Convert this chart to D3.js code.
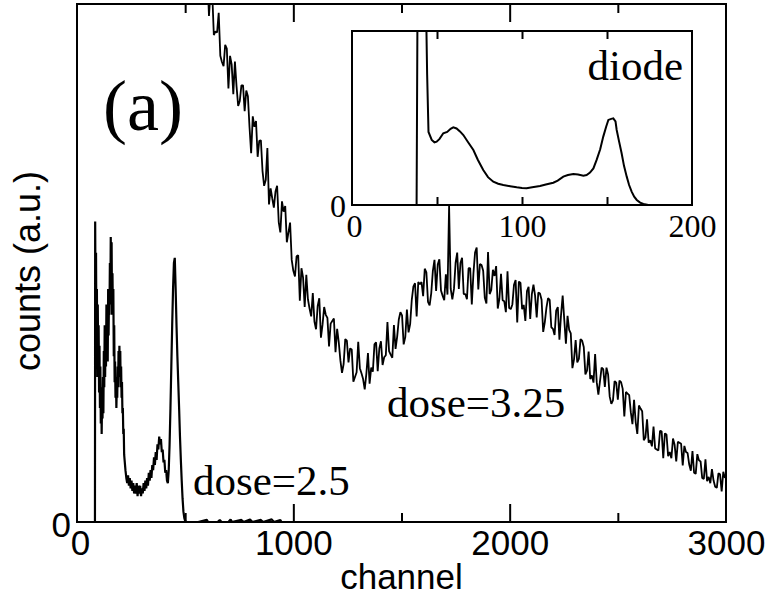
<!DOCTYPE html>
<html><head><meta charset="utf-8">
<script src="https://cdn.jsdelivr.net/npm/d3@7"></script>
<style>body{margin:0;background:#fff}</style>
</head><body><svg id="c" width="769" height="600"></svg>
<script>
// ---- data ----
const mainMajorTicks = [0, 1000, 2000, 3000];
const mainMinorTicks = [500, 1500, 2500];
const insetMajorTicks = [0, 100, 200];
const insetInnerTicks = [50, 100, 150];

// dose = 3.25, read on two interleaved channel grids (565..2995 and 572.5..2987.5, step 15)
const channel325a = d3.range(565, 3000, 15);
const counts325a = [
111,103.7,105.2,97.7,102.2,94.7,98.3,88.8,92.1,83.7,88.3,88.9,80.3,84.3,79.3,82.2,71.2,76.3,70.5,73.7,
64.9,72.2,64.4,60.7,64.9,55.9,59.9,54,57.8,48.5,51.3,42.7,47.2,47.7,41.2,44.2,37.2,43.2,38.1,40,
33.9,38.8,32.8,34.7,28.8,35.3,30.8,33.3,28,34.8,28.7,25.6,32.6,29.8,34.3,29.1,34.9,31.8,38.6,32.3,
38,35.8,40.5,34.3,41,38.2,45.5,39.7,45.9,43.6,48.2,41.8,48.5,44.6,50.7,43.7,47.8,61,43,50,
45,51,44,49,42,52,44.9,49.6,43.3,52.1,44.8,47.5,41.2,47.9,42.6,48.4,41.1,45.8,38.5,46.2,
41.9,44.6,39.2,45.8,39.5,44.1,36.7,41.4,42.9,37.3,40.8,35.2,43.7,34.4,37.1,29.7,35.1,31.5,35,28.5,
32.9,28.3,32.4,24.6,29.8,26.1,28.5,22.8,27.2,23.6,27,20.4,24.8,21.2,23.6,17,21.9,15.8,19.8,15.8,
18.4,14,17.6,12.3,16.9,13.5,16.1,11.7,15.3,10.9,13.5,11.1,13.7,9.3,11.9,8.5,12.1,8.7,10.2,6.8,
9.4,5.9,8.5];
const channel325b = d3.range(572.5, 2990, 15);
const counts325b = [
106,104.5,106,102.5,94,94.5,90,88,91.4,90,
82.6,84.1,81.3,84.3,83.3,76.2,78.3,77.4,73.6,67.8,
66,61.3,62.5,63.8,57.9,61.9,61,55.9,50.6,47.4,
51.5,49,41.5,43,39.7,38.7,41.7,35.6,41.5,39.4,
38.3,39.3,37.3,31.2,30.5,35,33.5,27.1,28.9,29.7,
27.6,28.6,26.7,29,34.7,33.5,30.3,32.2,33,31.7,
33.4,39.1,39.9,35.7,36.6,42.9,46.1,46.3,46.3,48.9,
42.5,44.2,50.6,49.7,44.7,42.8,43.9,45,45,52,
50,44,43,49,48,53,49.8,48.5,42.2,44,
48.7,49.4,43.1,42.8,40.5,41.3,42,46.7,46.4,41.1,
38.8,45.4,44,43.7,44.3,42.9,38.6,43.2,37.6,36.1,
41.5,40,39,39.8,36.4,31.4,30.8,35.3,33.8,29.2,
27.6,26.9,27,27.2,29.5,29.8,24.2,23.5,26.9,27.3,
25.7,25.1,24.5,18.9,19.3,22.5,21.4,16.3,15.3,14.6,
14.2,13.8,17.5,17.1,12.7,12.3,14.9,15.5,15.1,14.7,
13.3,9.9,9.5,13.1,11.7,8.3,7.9,7.5,8,6.6,
9.2,9.7];

// dose = 2.5
const channel25 = [78, 83].concat(d3.range(84, 222, 2), d3.range(224, 504, 4),
  [506, 560, 600, 606, 650, 660, 668, 700, 710, 716, 760, 770, 800, 810, 850, 860, 900, 910, 940, 945]);
const counts25 = [0, 0,
58,40,52,33,45,28,42,30,38,
25,34,22,30,19,26,17,24,20,28,
21,33,26,38,28,36,30,42,33,40,
31,45,36,44,40,50,42,55,46,54,
40,48,40,45,32,38,27,31,24,28,
22,26,24,30,26,33,28,34,29,33,
26,30,24,27,21,22,17,18,13,12,
10,8.5,7.5,9,7,8.5,6.5,8,6,7.5,
5.5,7,5.5,7.5,5,7,5.5,7,5,6.5,
5.5,7.5,6,8,6.5,8.5,7,9.5,8,10,
8.5,11,10,12.5,11,13.5,12,15,14,16.5,
15,16,13.5,14,11.5,12,9.5,10,8,7.5,
10,15,22,30,38,45,50,51,45,38,
32,27,22,16.5,12,8,4.5,2,0.8,0.2,
0,0,0.4,0,0,0.4,0,0,0.5,0,0.4,0,0.5,0,0.4,0,0.5,0,0.4,0];

// inset: diode
const channelDiode = [0,38,38.6,39.2,43.3,44.2,45,46.9,48.5,49.8,51.5,53.7,56,58,59.6,61.5,63.5,65.5,68,71.4,
  74,77.2,80,83.1,86,89,93,96.9,100,102.7,106,110.6,114,118.4,121,124.3,127,130.2,133,136.1,
  138,140,142,143.9,146,147.8,149.5,150.8,152.5,153.7,155,155.7,157,158.6,160,161.6,163,164.5,166,167.5,
  169.5,171.4,174.3,178];
const countsDiode = [0,0,130,130,130,75,42,37.4,36,36.4,38,41.2,42,43.8,44.6,44,42.3,40.2,36.5,31.6,
  26,20.1,16,13.4,12.2,11.5,10.8,10.2,9.8,9.6,10.2,10.9,11.8,12.8,14,16.3,17.2,17.8,17.5,16.8,
  17.2,18.6,21,25.9,32,39.3,45,48.9,49.5,49.8,48,43.1,37,29.7,22.5,16.3,11.5,7.7,4.8,2.9,
  1.4,0.6,0,0];

// ---- drawing ----
const SANS = "'Liberation Sans', Arial, Helvetica, sans-serif";
const SERIF = "'Liberation Serif', 'Times New Roman', serif";
const svg = d3.select('#c');
svg.append('rect').attr('width', 769).attr('height', 600).attr('fill', '#fff');

const M = {l: 77, r: 726, t: 4, b: 522};
const x = d3.scaleLinear().domain([0, 3000]).range([M.l, M.r]);
const y = d3.scaleLinear().domain([0, 100]).range([M.b, M.t]);

const defs = svg.append('defs');
defs.append('clipPath').attr('id', 'clipMain').append('rect')
  .attr('x', M.l).attr('y', M.t).attr('width', M.r - M.l).attr('height', M.b - M.t);

const pts325 = d3.zip(channel325a, counts325a).concat(d3.zip(channel325b, counts325b))
  .sort((a, b) => a[0] - b[0]);

const line = d3.line().x(d => x(d[0])).y(d => y(d[1]));
const gMain = svg.append('g').attr('clip-path', 'url(#clipMain)');
gMain.append('path').datum(pts325).attr('d', line)
  .attr('fill', 'none').attr('stroke', '#000').attr('stroke-width', 1.8).attr('stroke-linejoin', 'bevel');
gMain.append('path').datum(d3.zip(channel25, counts25)).attr('d', line)
  .attr('fill', 'none').attr('stroke', '#000').attr('stroke-width', 2.2).attr('stroke-linejoin', 'bevel');

// ticks main
function ticks(g, axis) { g.call(axis); g.select('.domain').remove(); g.selectAll('line').attr('stroke', '#000').attr('stroke-width', 2); g.selectAll('text').remove(); }
ticks(svg.append('g').attr('transform', `translate(0,${M.b})`), d3.axisBottom(x).tickValues([1000, 2000]).tickSize(-18));
ticks(svg.append('g').attr('transform', `translate(0,${M.b})`), d3.axisBottom(x).tickValues(mainMinorTicks).tickSize(-9));
ticks(svg.append('g').attr('transform', `translate(0,${M.t})`), d3.axisTop(x).tickValues([1000, 2000]).tickSize(-18));
ticks(svg.append('g').attr('transform', `translate(0,${M.t})`), d3.axisTop(x).tickValues(mainMinorTicks).tickSize(-9));

// tick labels main
const gl = svg.append('g').attr('transform', `translate(0,${M.b})`)
  .call(d3.axisBottom(x).tickValues(mainMajorTicks).tickSize(0).tickFormat(d3.format('d')));
gl.select('.domain').remove();
gl.selectAll('text').attr('y', 33).attr('dy', null).attr('font-family', SANS).attr('font-size', 35).attr('fill', '#000')
  .attr('x', d => d === 0 ? 3 : 0);

svg.append('rect').attr('x', M.l).attr('y', M.t).attr('width', M.r - M.l).attr('height', M.b - M.t)
  .attr('fill', 'none').attr('stroke', '#000').attr('stroke-width', 2);

svg.append('text').attr('x', 71).attr('y', 537).attr('text-anchor', 'end')
  .attr('font-family', SANS).attr('font-size', 35).text('0');
svg.append('text').attr('x', (M.l + M.r) / 2).attr('y', 589).attr('text-anchor', 'middle')
  .attr('font-family', SANS).attr('font-size', 35).text('channel');
svg.append('text').attr('transform', 'translate(40,271) rotate(-90)').attr('text-anchor', 'middle')
  .attr('font-family', SANS).attr('font-size', 36).text('counts (a.u.)');

svg.append('text').attr('x', 103).attr('y', 130).attr('font-family', SERIF).attr('font-size', 72).text('(a)');
svg.append('text').attr('x', 193).attr('y', 495).attr('font-family', SERIF).attr('font-size', 43).text('dose=2.5');
svg.append('text').attr('x', 387).attr('y', 417).attr('font-family', SERIF).attr('font-size', 43).text('dose=3.25');

// ---- inset ----
const I = {l: 352, r: 692, t: 31, b: 205};
const xi = d3.scaleLinear().domain([0, 200]).range([I.l, I.r]);
const yi = d3.scaleLinear().domain([0, 100]).range([I.b, I.t]);
defs.append('clipPath').attr('id', 'clipInset').append('rect')
  .attr('x', I.l).attr('y', I.t).attr('width', I.r - I.l).attr('height', I.b - I.t);
svg.append('rect').attr('x', I.l).attr('y', I.t).attr('width', I.r - I.l).attr('height', I.b - I.t).attr('fill', '#fff');
const linei = d3.line().x(d => xi(d[0])).y(d => yi(d[1]));
svg.append('g').attr('clip-path', 'url(#clipInset)').append('path')
  .datum(d3.zip(channelDiode, countsDiode)).attr('d', linei)
  .attr('fill', 'none').attr('stroke', '#000').attr('stroke-width', 2);
ticks(svg.append('g').attr('transform', `translate(0,${I.b})`), d3.axisBottom(xi).tickValues(insetInnerTicks).tickSize(-8));
ticks(svg.append('g').attr('transform', `translate(0,${I.t})`), d3.axisTop(xi).tickValues(insetInnerTicks).tickSize(-8));
const gli = svg.append('g').attr('transform', `translate(0,${I.b})`)
  .call(d3.axisBottom(xi).tickValues(insetMajorTicks).tickSize(0).tickFormat(d3.format('d')));
gli.select('.domain').remove();
gli.selectAll('text').attr('y', 32).attr('dy', null).attr('font-family', SERIF).attr('font-size', 32).attr('fill', '#000')
  .attr('x', d => d === 0 ? 2 : 0);
svg.append('rect').attr('x', I.l).attr('y', I.t).attr('width', I.r - I.l).attr('height', I.b - I.t)
  .attr('fill', 'none').attr('stroke', '#000').attr('stroke-width', 2);
svg.append('text').attr('x', 346).attr('y', 217).attr('text-anchor', 'end')
  .attr('font-family', SERIF).attr('font-size', 32).text('0');
svg.append('text').attr('x', 683).attr('y', 80).attr('text-anchor', 'end')
  .attr('font-family', SERIF).attr('font-size', 43).text('diode');
</script></body></html>
